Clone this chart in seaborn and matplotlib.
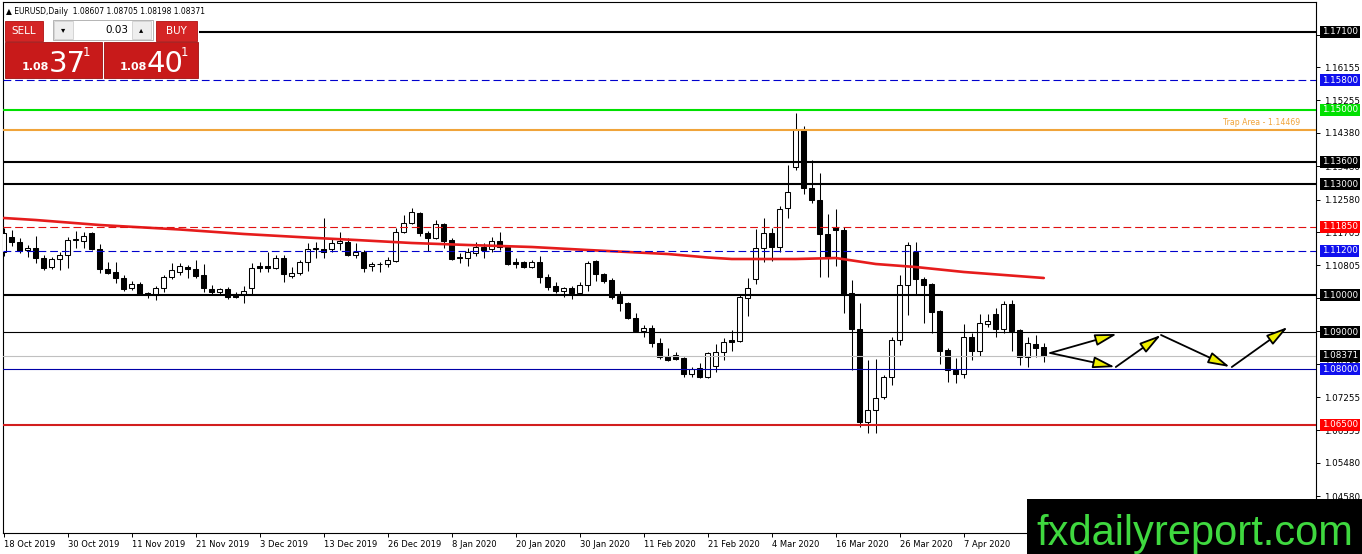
import numpy as np
import pandas as pd
import matplotlib
matplotlib.use("Agg")
import matplotlib.pyplot as plt
import matplotlib.transforms as mtrans
from matplotlib.patches import Rectangle
import seaborn as sns

W, H = 1362, 554

# daily candles, bar 0 = 18 Oct 2019
opens = [1.1117, 1.1157, 1.1143, 1.1122, 1.1127, 1.1100, 1.1076, 1.1098, 1.1109, 1.1148,
         1.1146, 1.1168, 1.1125, 1.1071, 1.1063, 1.1047, 1.1020, 1.1030, 1.1006, 1.1001,
         1.1020, 1.1049, 1.1063, 1.1076, 1.1071, 1.1054, 1.1017, 1.1009, 1.1017, 1.1003,
         1.1003, 1.1020, 1.1079, 1.1079, 1.1073, 1.1100, 1.1052, 1.1060, 1.1090, 1.1125,
         1.1125, 1.1125, 1.1141, 1.1144, 1.1109, 1.1117, 1.1079, 1.1084, 1.1084, 1.1092,
         1.1171, 1.1195, 1.1222, 1.1168, 1.1154, 1.1192, 1.1149, 1.1103, 1.1100, 1.1114,
         1.1130, 1.1125, 1.1146, 1.1130, 1.1090, 1.1090, 1.1076, 1.1090, 1.1049, 1.1025,
         1.1011, 1.1020, 1.1006, 1.1028, 1.1092, 1.1057, 1.1041, 1.0998, 1.0979, 1.0939,
         1.0903, 1.0911, 1.0871, 1.0836, 1.0839, 1.0831, 1.0788, 1.0804, 1.0780, 1.0810,
         1.0847, 1.0879, 1.0877, 1.0993, 1.1044, 1.1127, 1.1168, 1.1130, 1.1236, 1.1347,
         1.1448, 1.1289, 1.1257, 1.1165, 1.1184, 1.1176, 1.1006, 1.0909, 1.0658, 1.0690,
         1.0725, 1.0780, 1.0879, 1.1028, 1.1117, 1.1044, 1.1030, 1.0958, 1.0852, 1.0798,
         1.0787, 1.0887, 1.0850, 1.0922, 1.0949, 1.0909, 1.0976, 1.0906, 1.0834, 1.0868,
         1.08607]
highs = [1.1180, 1.1176, 1.1154, 1.1135, 1.1160, 1.1109, 1.1103, 1.1117, 1.1157, 1.1173,
         1.1171, 1.1171, 1.1138, 1.1090, 1.1090, 1.1055, 1.1038, 1.1036, 1.1009, 1.1025,
         1.1055, 1.1087, 1.1087, 1.1081, 1.1095, 1.1084, 1.1028, 1.1020, 1.1022, 1.1009,
         1.1025, 1.1087, 1.1090, 1.1117, 1.1109, 1.1109, 1.1076, 1.1095, 1.1141, 1.1144,
         1.1208, 1.1154, 1.1171, 1.1154, 1.1141, 1.1122, 1.1090, 1.1090, 1.1103, 1.1182,
         1.1216, 1.1235, 1.1225, 1.1173, 1.1203, 1.1195, 1.1154, 1.1114, 1.1127, 1.1144,
         1.1141, 1.1157, 1.1171, 1.1135, 1.1100, 1.1092, 1.1095, 1.1106, 1.1057, 1.1036,
         1.1022, 1.1025, 1.1036, 1.1092, 1.1095, 1.1060, 1.1047, 1.1011, 1.0982, 1.0952,
         1.0920, 1.0920, 1.0885, 1.0858, 1.0847, 1.0833, 1.0806, 1.0817, 1.0847, 1.0868,
         1.0885, 1.0906, 1.1003, 1.1047, 1.1179, 1.1208, 1.1181, 1.1241, 1.1351, 1.1491,
         1.1456, 1.1365, 1.1330, 1.1219, 1.1233, 1.1184, 1.1041, 1.0979, 1.0825, 1.0828,
         1.0785, 1.0887, 1.1055, 1.1144, 1.1144, 1.1049, 1.1033, 1.0960, 1.0858, 1.0831,
         1.0922, 1.0898, 1.0949, 1.0949, 1.0966, 1.0984, 1.0987, 1.0909, 1.0887, 1.0893,
         1.08705]
lows = [1.1105, 1.1133, 1.1114, 1.1103, 1.1087, 1.1068, 1.1071, 1.1068, 1.1073, 1.1127,
        1.1127, 1.1122, 1.1060, 1.1058, 1.1033, 1.1011, 1.1014, 1.1001, 1.0993, 1.0988,
        1.1009, 1.1044, 1.1055, 1.1047, 1.1047, 1.1009, 1.1001, 1.1001, 1.0990, 1.0993,
        1.0979, 1.1001, 1.1063, 1.1063, 1.1071, 1.1036, 1.1047, 1.1055, 1.1066, 1.1100,
        1.1100, 1.1117, 1.1122, 1.1106, 1.1100, 1.1063, 1.1066, 1.1063, 1.1076, 1.1090,
        1.1168, 1.1192, 1.1160, 1.1119, 1.1152, 1.1127, 1.1095, 1.1087, 1.1079, 1.1106,
        1.1100, 1.1117, 1.1122, 1.1082, 1.1073, 1.1073, 1.1073, 1.1033, 1.1014, 1.1006,
        1.0995, 1.0990, 1.1001, 1.1011, 1.1038, 1.1033, 1.0990, 1.0957, 1.0936, 1.0901,
        1.0887, 1.0860, 1.0828, 1.0823, 1.0825, 1.0780, 1.0780, 1.0777, 1.0777, 1.0793,
        1.0825, 1.0850, 1.0874, 1.0944, 1.1030, 1.1090, 1.1092, 1.1117, 1.1208, 1.1338,
        1.1273, 1.1249, 1.1049, 1.1049, 1.1079, 1.0952, 1.0798, 1.0645, 1.0628, 1.0628,
        1.0720, 1.0758, 1.0866, 1.0947, 1.1003, 1.0925, 1.0898, 1.0815, 1.0766, 1.0763,
        1.0777, 1.0825, 1.0836, 1.0914, 1.0887, 1.0898, 1.0850, 1.0812, 1.0806, 1.0834,
        1.08198]
closes = [1.1168, 1.1143, 1.1119, 1.1127, 1.1100, 1.1073, 1.1098, 1.1109, 1.1149, 1.1151,
          1.1160, 1.1125, 1.1071, 1.1060, 1.1047, 1.1017, 1.1030, 1.1003, 1.1001, 1.1020,
          1.1049, 1.1068, 1.1079, 1.1071, 1.1052, 1.1020, 1.1009, 1.1017, 1.0995, 1.0995,
          1.1011, 1.1073, 1.1073, 1.1073, 1.1100, 1.1057, 1.1060, 1.1090, 1.1125, 1.1127,
          1.1117, 1.1141, 1.1146, 1.1109, 1.1117, 1.1073, 1.1084, 1.1085, 1.1095, 1.1171,
          1.1195, 1.1225, 1.1168, 1.1154, 1.1192, 1.1146, 1.1098, 1.1100, 1.1117, 1.1130,
          1.1122, 1.1146, 1.1130, 1.1084, 1.1084, 1.1076, 1.1090, 1.1049, 1.1022, 1.1011,
          1.1020, 1.1006, 1.1028, 1.1087, 1.1057, 1.1038, 1.0995, 1.0979, 1.0939, 1.0903,
          1.0911, 1.0871, 1.0833, 1.0825, 1.0828, 1.0788, 1.0801, 1.0780, 1.0844, 1.0848,
          1.0874, 1.0874, 1.0995, 1.1020, 1.1127, 1.1168, 1.1130, 1.1233, 1.1278, 1.1448,
          1.1289, 1.1257, 1.1165, 1.1100, 1.1176, 1.1001, 1.0909, 1.0658, 1.0690, 1.0723,
          1.0780, 1.0879, 1.1028, 1.1136, 1.1044, 1.1028, 1.0955, 1.0850, 1.0798, 1.0787,
          1.0887, 1.0850, 1.0925, 1.0930, 1.0909, 1.0976, 1.0903, 1.0834, 1.0871, 1.0858,
          1.08371]

# moving average (red) read at a few bars
ma_bars = [0, 4, 12, 22, 30, 39, 44, 51, 58, 66, 73, 78, 83, 88, 91, 99, 104, 109, 114, 120, 130]
ma_values = [1.12083, 1.12029, 1.11894, 1.11773, 1.11652, 1.11544, 1.11490, 1.11409, 1.11355,
             1.11301, 1.11220, 1.11166, 1.11112, 1.11018, 1.10977, 1.10977, 1.11004, 1.10842,
             1.10761, 1.10627, 1.10465]

date_ticks = list(range(0, 121, 8))
date_labels = ["18 Oct 2019", "30 Oct 2019", "11 Nov 2019", "21 Nov 2019", "3 Dec 2019",
               "13 Dec 2019", "26 Dec 2019", "8 Jan 2020", "20 Jan 2020", "30 Jan 2020",
               "11 Feb 2020", "21 Feb 2020", "4 Mar 2020", "16 Mar 2020", "26 Mar 2020",
               "7 Apr 2020"]

price_ticks = [1.17030, 1.16155, 1.15255, 1.14380, 1.13480, 1.12580, 1.11705, 1.10805,
               1.09930, 1.09030, 1.08155, 1.07255, 1.06355, 1.05480, 1.04580]

# horizontal levels and their price tags
levels = [1.1710, 1.1580, 1.1500, 1.14469, 1.1360, 1.1300, 1.1185, 1.1120, 1.1000,
          1.0900, 1.08371, 1.0800, 1.0650]
level_tags = ["1.17100", "1.15800", "1.15000", None, "1.13600", "1.13000", "1.11850",
              "1.11200", "1.10000", "1.09000", "1.08371", "1.08000", "1.06500"]
trap_label = "Trap Area - 1.14469"

# projected path (bar, price) pairs
arrow_paths = [((130.8, 1.08442), (139.15, 1.08955)),
               ((130.8, 1.08442), (138.9, 1.08064)),
               ((139.0, 1.08064), (144.65, 1.08928)),
               ((144.65, 1.08928), (153.26, 1.08064)),
               ((153.5, 1.08064), (160.5, 1.09143))]

header = "\u25b2 EURUSD,Daily  1.08607 1.08705 1.08198 1.08371"

# ---- styles
level_styles = [
    dict(color="black", lw=1.5, ls="-"),
    dict(color="#0000cd", lw=0.8, ls=(0, (7, 3.5))),
    dict(color="#00e000", lw=1.5, ls="-"),
    dict(color="#f0a43a", lw=1.5, ls="-"),
    dict(color="black", lw=1.5, ls="-"),
    dict(color="black", lw=1.5, ls="-"),
    dict(color="#e01010", lw=0.8, ls=(0, (7, 3.5))),
    dict(color="#0000cd", lw=0.8, ls=(0, (7, 3.5))),
    dict(color="black", lw=1.5, ls="-"),
    dict(color="black", lw=0.8, ls="-"),
    dict(color="#c0c0c0", lw=0.8, ls="-"),
    dict(color="#0000a8", lw=0.8, ls="-"),
    dict(color="#d21e1e", lw=1.5, ls="-"),
]
tag_colors = ["black", "#1010ee", "#00e000", None, "black", "black", "#ff0000",
              "#1010ee", "black", "black", "black", "#1010ee", "#ff0000"]

sns.set_theme(style="white")
plt.rcParams["font.family"] = ["DejaVu Sans"]
plt.rcParams["axes.linewidth"] = 0.8

df = pd.DataFrame({"open": opens, "high": highs, "low": lows, "close": closes})
df["bar"] = np.arange(len(df))
df["up"] = df["close"] >= df["open"]

fig = plt.figure(figsize=(W / 100, H / 100), dpi=100)
ax = fig.add_axes([3 / W, 1 - 533 / H, 1313 / W, 531 / H])

xmin = -0.1
ax.set_xlim(xmin, xmin + 1313 / 8)
ax.set_ylim(1.03587, 1.17909)

# candles
ax.vlines(df["bar"], df["low"], df["high"], color="black", lw=0.75, zorder=2)
bottoms = df[["open", "close"]].min(axis=1)
heights = (df["close"] - df["open"]).abs().clip(lower=0.00006)
ax.bar(df["bar"], heights, bottom=bottoms, width=0.64,
       color=np.where(df["up"], "white", "black"), edgecolor="black", linewidth=0.75, zorder=3)

# moving average
sns.lineplot(x=ma_bars, y=ma_values, ax=ax, color="#e61c1c", lw=1.9, zorder=4)

# levels
btf = mtrans.blended_transform_factory(ax.transAxes, ax.transData)
for lvl, st, tag, tc in zip(levels, level_styles, level_tags, tag_colors):
    ax.axhline(lvl, zorder=5, **st)
    if tag is not None:
        ax.text(1 + 6 / 1313, lvl, tag, transform=btf, fontsize=6.3, color="white",
                ha="left", va="center", zorder=6,
                bbox=dict(boxstyle="square,pad=0.18", fc=tc, ec="none"))
ax.text(1 - 16 / 1313, levels[3] + 0.0008, trap_label, transform=btf, fontsize=5.6,
        color="#f0a43a", ha="right", va="bottom")

# projection arrows
for (x0, y0), (x1, y1) in arrow_paths:
    ax.annotate("", xy=(x1, y1), xytext=(x0, y0),
                arrowprops=dict(arrowstyle="-|>,head_length=0.6,head_width=0.16",
                                fc="#eeee00", ec="black", lw=1.3, mutation_scale=22,
                                shrinkA=0, shrinkB=0), zorder=7)

# axes
ax.yaxis.tick_right()
ax.set_yticks(price_ticks)
ax.set_yticklabels([f"{v:.5f}" for v in price_ticks])
ax.set_xticks(date_ticks)
ax.set_xticklabels(date_labels, ha="left")
ax.tick_params(axis="y", direction="out", length=3, width=0.7, pad=3, labelsize=6.3,
               colors="black", right=True, left=False)
ax.tick_params(axis="x", direction="out", length=3, width=0.7, pad=2, labelsize=6,
               colors="black", bottom=True)
for s in ax.spines.values():
    s.set_color("black")
    s.set_linewidth(0.8)
ax.set_xlabel("")
ax.set_ylabel("")

fig.text(6 / W, 1 - 11 / H, header, fontsize=5.5, color="black", ha="left", va="center")


# one-click trading panel
def px_rect(x, y, w, h, **kw):
    fig.add_artist(Rectangle((x / W, 1 - (y + h) / H), w / W, h / H,
                             transform=fig.transFigure, **kw))


def px_text(x, y, s, **kw):
    fig.text(x / W, 1 - y / H, s, **kw)


px_rect(4, 18, 195, 61, fc="white", ec="none", zorder=9)
px_rect(5, 21, 38, 20, fc="#d42424", ec="#b01010", lw=0.6, zorder=10)
px_text(24, 31, "SELL", color="white", fontsize=7.5, ha="center", va="center", zorder=11)
px_rect(156, 21, 41, 20, fc="#d42424", ec="#b01010", lw=0.6, zorder=10)
px_text(176.5, 31, "BUY", color="white", fontsize=7.5, ha="center", va="center", zorder=11)
px_rect(53, 20, 100, 20, fc="white", ec="#a8a8a8", lw=0.6, zorder=10)
px_rect(54, 21, 19, 18, fc="#eeeeee", ec="#c8c8c8", lw=0.5, zorder=11)
px_rect(132, 21, 19, 18, fc="#eeeeee", ec="#c8c8c8", lw=0.5, zorder=11)
px_text(63.5, 30, "\u25be", color="black", fontsize=6, ha="center", va="center", zorder=12)
px_text(141.5, 30, "\u25b4", color="black", fontsize=6, ha="center", va="center", zorder=12)
px_text(128, 30, "0.03", color="black", fontsize=7.5, ha="right", va="center", zorder=12)

px_rect(5, 42, 97, 36, fc="#c81a1a", ec="#a01010", lw=0.6, zorder=10)
px_rect(104, 42, 94, 36, fc="#c81a1a", ec="#a01010", lw=0.6, zorder=10)
for x0, big in [(22, "37"), (120, "40")]:
    px_text(x0, 70, "1.08", color="white", fontsize=8, fontweight="bold", ha="left",
            va="baseline", zorder=12)
    px_text(x0 + 27, 71.5, big, color="white", fontsize=21, ha="left", va="baseline", zorder=12)
    px_text(x0 + 61, 56, "1", color="white", fontsize=8.5, ha="left", va="baseline", zorder=12)

# watermark
px_rect(1027, 499, 335, 55, fc="black", ec="none", zorder=20)
px_text(1195, 545, "fxdailyreport.com", color="#3fd83f", fontsize=30,
        family=["Liberation Sans Narrow", "Liberation Sans", "DejaVu Sans"],
        ha="center", va="baseline", zorder=21)

fig.savefig("out.png", dpi=100, facecolor="white")
